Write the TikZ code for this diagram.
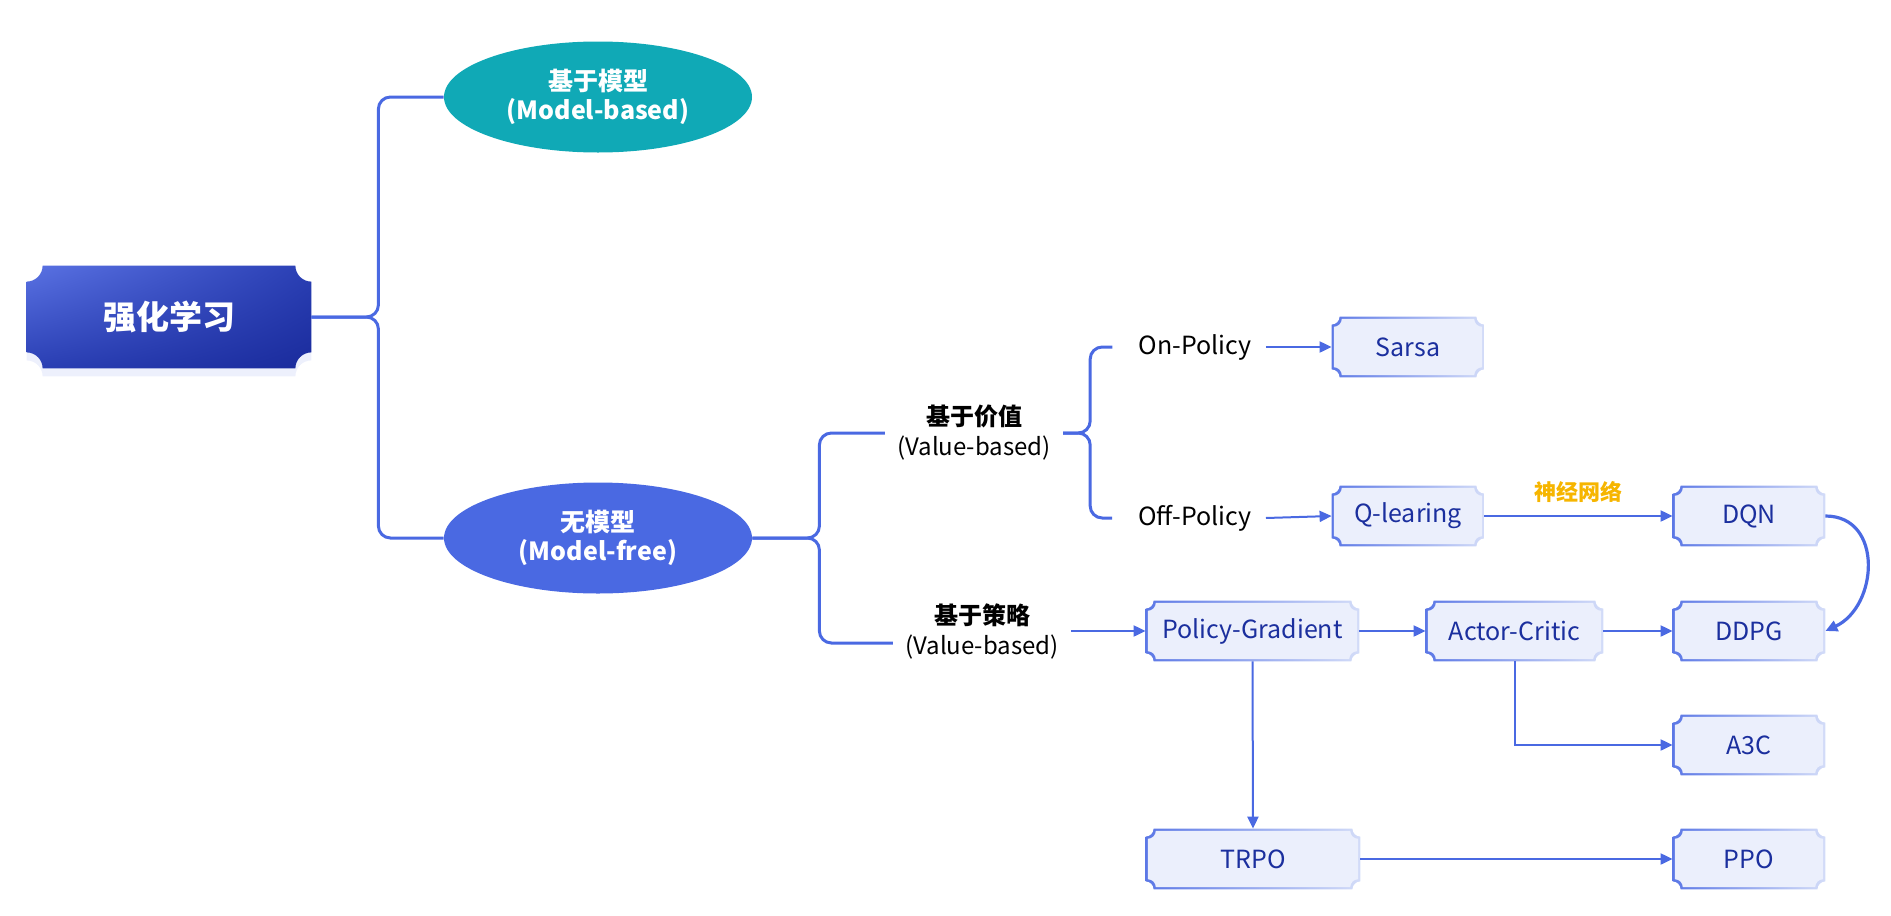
\documentclass[tikz,border=0pt]{standalone}
\usepackage{fontspec}
\setmainfont{Noto Sans CJK SC}
\usepackage{tikz}
\usetikzlibrary{calc,arrows.meta,backgrounds,shadows,shadings,shapes.geometric}

\definecolor{linecol}{HTML}{4A69E2}
\definecolor{tealcol}{HTML}{10A9B6}
\definecolor{boxfill}{HTML}{EBEFFC}
\definecolor{boxtext}{HTML}{1B2F9E}
\definecolor{edgeA}{HTML}{5C78E6}
\definecolor{edgeB}{HTML}{D3DCF8}
\definecolor{goldcol}{HTML}{F6B500}
\definecolor{rootA}{HTML}{5A72E3}
\definecolor{rootB}{HTML}{2A3FB4}
\definecolor{rootC}{HTML}{1A2B9C}

\newcommand{\ticket}[3]{%
  ($(#1.north west)+(#2+#3,-#2)$)
  -- ($(#1.north east)+(-#2-#3,-#2)$) arc[start angle=180,end angle=270,radius=#3]
  -- ($(#1.south east)+(-#2,#2+#3)$) arc[start angle=90,end angle=180,radius=#3]
  -- ($(#1.south west)+(#2+#3,#2)$) arc[start angle=0,end angle=90,radius=#3]
  -- ($(#1.north west)+(#2,-#2-#3)$) arc[start angle=270,end angle=360,radius=#3]
  -- cycle}

\tikzset{
  box/.style={minimum width=76pt, minimum height=30pt, inner sep=0pt,
    text=boxtext, font=\fontsize{12.5}{14}\selectfont},
  oval/.style={ellipse, minimum width=154pt, minimum height=55.5pt, inner sep=0pt,
    text=white, align=center, font=\bfseries\fontsize{12.5}{14.5}\selectfont},
  branchtext/.style={align=center, inner sep=6pt, font=\fontsize{12}{15}\selectfont},
  policy/.style={inner sep=7pt, font=\fontsize{12.5}{14}\selectfont},
  brace/.style={draw=linecol, line width=1.5pt, rounded corners=6pt},
  link/.style={draw=linecol, line width=1pt, -{Triangle[length=6pt,width=5.5pt]}},
}

\begin{document}
\begin{tikzpicture}[x=0.5pt,y=0.5pt]
                \useasboundingbox (0,0) rectangle (1891,-916);

                \node [minimum width=142pt, minimum height=51pt, inner sep=0pt, text=white,
                  font=\bfseries\fontsize{16.5}{18}\selectfont] (root) at (169,-317) {强化学习};

                \node [oval, fill=tealcol] (mb) at (598,-97) {基于模型\\(Model-based)};
                \node [oval, fill=linecol] (mf) at (598,-538) {无模型\\(Model-free)};

                \node [branchtext] (vb) at (974,-433) {\textbf{基于价值}\\(Value-based)};
                \node [branchtext] (pb) at (982,-631) {\textbf{基于策略}\\(Value-based)};

                \node [policy] (onp) at (1195,-347) {On-Policy};
                \node [policy] (offp) at (1195,-518) {Off-Policy};

                \node [box] (sarsa) at (1408,-347) {Sarsa};
                \node [box] (ql) at (1408,-516) {Q-learing};
                \node [box] (dqn) at (1749,-516) {DQN};
                \node [box] (ddpg) at (1749,-631) {DDPG};
                \node [box, minimum width=106.5pt] (pg) at (1252.5,-631) {Policy-Gradient};
                \node [box, minimum width=88.5pt] (ac) at (1514.5,-631) {Actor-Critic};
                \node [box] (a3c) at (1749,-745) {A3C};
                \node [box, minimum width=107pt] (trpo) at (1253,-859) {TRPO};
                \node [box] (ppo) at (1749,-859) {PPO};

                \begin{scope}[on background layer]
                \shade [upper left=rootA, upper right=rootB, lower left=rootB, lower right=rootC,
                  drop shadow={shadow xshift=0pt, shadow yshift=-4pt, opacity=0.1, fill=linecol}]
                  \ticket{root}{0pt}{8pt};
                \foreach \n in {sarsa,ql,dqn,ddpg,pg,ac,a3c,trpo,ppo} {
                  \shade [left color=edgeA, right color=edgeB] \ticket{\n}{0pt}{4pt};
                  \fill [boxfill] \ticket{\n}{1.1pt}{4pt};
                }
                \end{scope}

                \draw [brace] (root.east) -- ++(67,0) |- (mb.west);
                \draw [brace] (root.east) -- ++(67,0) |- (mf.west);
                \draw [brace] (mf.east) -- ++(67,0) |- (vb.west);
                \draw [brace] (mf.east) -- ++(67,0) |- ([yshift=-6pt]pb.west);
                \draw [brace] (vb.east) -- ++(27,0) |- ([xshift=-6pt]onp.west);
                \draw [brace] (vb.east) -- ++(27,0) |- ([xshift=-6pt]offp.west);

                \draw [link] (onp.east) -- (sarsa.west);
                \draw [link] (offp.east) -- (ql.west);
                \draw [link] (ql.east) -- node [above=3pt, text=goldcol,
                  font=\bfseries\fontsize{11}{12}\selectfont] {神经网络} (dqn.west);
                \draw [link] (pb.east) -- (pg.west);
                \draw [link] (pg.east) -- (ac.west);
                \draw [link] (ac.east) -- (ddpg.west);
                \draw [link] (ac.south) |- (a3c.west);
                \draw [link] (pg.south) -- (trpo.north);
                \draw [link] (trpo.east) -- (ppo.west);
                \draw [link, line width=1.6pt] (dqn.east) to [out=0, in=25, looseness=1.3] (ddpg.east);

                \end{tikzpicture}
\end{document}
